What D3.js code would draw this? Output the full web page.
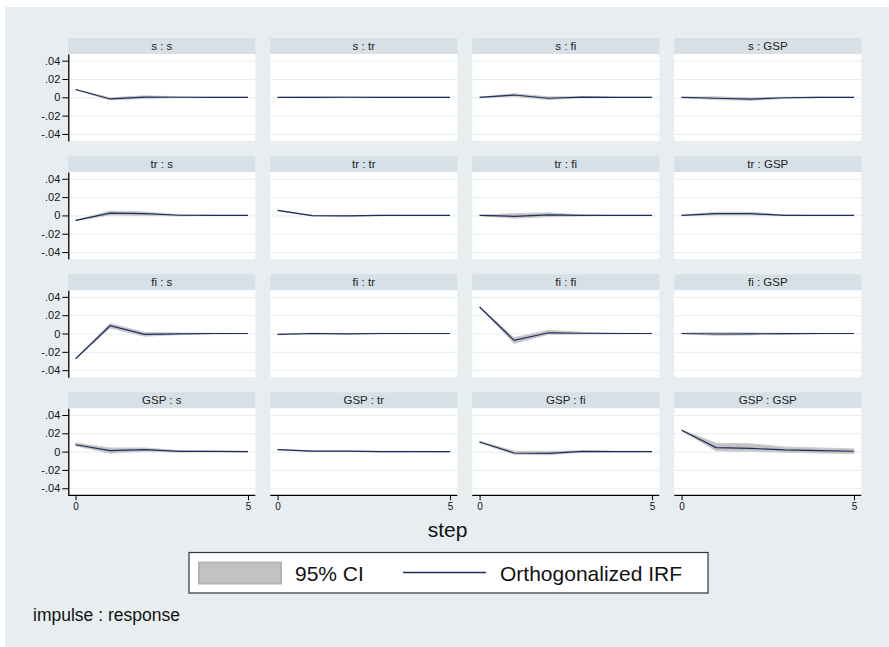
<!DOCTYPE html>
<html>
<head>
<meta charset="utf-8">
<script src="https://cdn.jsdelivr.net/npm/d3@7"></script>
<style>
  body { margin: 0; background: #fff; }
  text { font-family: 'Liberation Sans', Arial, sans-serif; }
</style>
</head>
<body>
<svg id="chart" width="889" height="647"></svg>
<script>
/* global d3 */

var variables = ['s', 'tr', 'fi', 'GSP']
var steps = [0, 1, 2, 3, 4, 5]
var yTicks = [-0.04, -0.02, 0, 0.02, 0.04]
var yTickLabels = ['-.04', '-.02', '0', '.02', '.04']
var xTicks = [0, 5]

// rows in impulse-major order: s:s, s:tr, s:fi, s:GSP, tr:s, ...
var irf = [
  [0.0085, -0.0018, 0.0003, 0.0001, 0, 0],
  [0, 0, 0.0001, 0, 0, 0],
  [0, 0.0025, -0.001, 0.0002, 0, 0],
  [0, -0.001, -0.002, -0.0005, 0, 0],
  [-0.0055, 0.0025, 0.002, 0.0002, 0, 0],
  [0.0055, -0.0003, -0.0005, 0, 0, 0],
  [0, -0.001, 0.0005, 0, 0, 0],
  [0, 0.002, 0.002, 0, 0, 0],
  [-0.0275, 0.0085, -0.001, -0.0003, 0, 0],
  [-0.001, 0, -0.0003, 0, 0, 0],
  [0.029, -0.0075, 0.0008, 0.0003, 0, 0],
  [0, -0.0005, -0.0003, -0.0002, 0, 0],
  [0.0075, 0.001, 0.0022, 0.0003, 0.0002, 0],
  [0.0022, 0.0005, 0.0005, 0, 0, -0.0001],
  [0.0105, -0.0015, -0.002, 0.0003, 0, 0],
  [0.0233, 0.0044, 0.0035, 0.0018, 0.001, 0.0004]
]
var ciLower = [
  [0.0082, -0.003, -0.0012, -0.0003, -0.0001, 0],
  [-0.0002, -0.0004, -0.0003, -0.0002, -0.0001, 0],
  [-0.0003, 0.001, -0.0025, -0.0004, -0.0002, 0],
  [-0.0003, -0.0025, -0.0033, -0.0012, -0.0003, 0],
  [-0.0058, 0.0005, 0, -0.0005, -0.0001, 0],
  [0.0052, -0.0006, -0.0008, -0.0003, -0.0001, 0],
  [-0.0003, -0.003, -0.0015, -0.0005, -0.0001, 0],
  [-0.0003, 0.0005, 0.0005, -0.0003, -0.0001, 0],
  [-0.0278, 0.006, -0.003, -0.0012, -0.0003, 0],
  [-0.0013, -0.0004, -0.0006, -0.0002, -0.0001, 0],
  [0.0287, -0.011, -0.0008, -0.0005, -0.0002, 0],
  [-0.0003, -0.002, -0.0015, -0.0007, -0.0002, 0],
  [0.0062, -0.0018, 0.0005, -0.0005, -0.0003, -0.0003],
  [0.0019, 0.0002, 0.0002, -0.0003, -0.0002, -0.0003],
  [0.0095, -0.003, -0.0035, -0.0005, -0.0003, -0.0002],
  [0.0228, 0.0008, 0.0005, -0.0007, -0.0015, -0.002]
]
var ciUpper = [
  [0.0088, -0.0005, 0.0017, 0.0005, 0.0001, 0],
  [0.0002, 0.0004, 0.0005, 0.0002, 0.0001, 0],
  [0.0003, 0.004, 0.0005, 0.0008, 0.0002, 0],
  [0.0003, 0.0005, -0.0007, 0.0002, 0.0003, 0],
  [-0.0052, 0.0048, 0.0038, 0.0008, 0.0002, 0],
  [0.0058, 0, -0.0002, 0.0003, 0.0001, 0],
  [0.0003, 0.002, 0.0028, 0.0005, 0.0001, 0],
  [0.0003, 0.0035, 0.0035, 0.0004, 0.0001, 0],
  [-0.0272, 0.011, 0.0012, 0.0005, 0.0002, 0],
  [-0.0007, 0.0004, 0, 0.0002, 0.0001, 0],
  [0.0293, -0.0045, 0.0035, 0.0012, 0.0003, 0],
  [0.0003, 0.0012, 0.0008, 0.0003, 0.0001, 0],
  [0.0095, 0.004, 0.004, 0.0012, 0.0006, 0.0003],
  [0.0025, 0.0008, 0.0008, 0.0003, 0.0002, 0.0001],
  [0.0115, 0.0005, 0.0003, 0.001, 0.0003, 0.0002],
  [0.0238, 0.0092, 0.0085, 0.005, 0.004, 0.003]
]

var colX0 = 68.3
var colStep = 202
var panelW = 187
var rowY0 = 38
var rowStep = 118.1
var headH = 16
var plotH = 87

var svg = d3.select('#chart')

svg.append('rect')
  .attr('x', 5).attr('y', 7)
  .attr('width', 884).attr('height', 640)
  .attr('fill', '#e8eef0')

var x = d3.scaleLinear().domain([0, 5]).range([7.3, panelW - 7.3])
var y = d3.scaleLinear().domain([-0.0477, 0.0473]).range([plotH, 0])

var band = d3.area()
  .x((d, i) => x(steps[i]))
  .y0(d => y(d[0]))
  .y1(d => y(d[1]))

var line = d3.line()
  .x((d, i) => x(steps[i]))
  .y(d => y(d))

variables.forEach(function (impulse, r) {
  variables.forEach(function (response, c) {
    var k = r * variables.length + c
    var g = svg.append('g')
      .attr('transform', `translate(${colX0 + c * colStep},${rowY0 + r * rowStep})`)

    // by-label strip
    g.append('rect')
      .attr('width', panelW).attr('height', headH)
      .attr('fill', '#d7e0e6')
    g.append('text')
      .attr('x', panelW / 2).attr('y', headH / 2 + 4)
      .attr('text-anchor', 'middle')
      .attr('font-size', 11.5)
      .attr('fill', '#222')
      .text(impulse + ' : ' + response)

    var p = g.append('g').attr('transform', `translate(0,${headH})`)
    p.append('rect')
      .attr('width', panelW).attr('height', plotH)
      .attr('fill', '#fff')

    // grid
    var grid = p.append('g')
      .call(d3.axisLeft(y).tickValues(yTicks).tickSize(-panelW).tickFormat(''))
    grid.select('.domain').remove()
    grid.selectAll('line').attr('stroke', '#e6edf0').attr('stroke-width', 1)

    var ci = irf[k].map((v, i) => [ciLower[k][i], ciUpper[k][i]])
    p.append('path')
      .attr('d', band(ci))
      .attr('fill', '#c2c2c2')
      .attr('stroke', '#cdcdcd')
      .attr('stroke-width', 1)

    p.append('path')
      .attr('d', line(irf[k]))
      .attr('fill', 'none')
      .attr('stroke', '#1f2c5c')
      .attr('stroke-width', 1.2)

    if (c === 0) {
      var ya = p.append('g')
        .call(d3.axisLeft(y).tickValues(yTicks).tickSize(6).tickSizeOuter(0).tickPadding(2)
          .tickFormat((d, i) => yTickLabels[i]))
      ya.select('.domain').attr('stroke', '#000').attr('stroke-width', 1.3)
      ya.selectAll('line').attr('stroke', '#000')
      ya.selectAll('text').attr('font-size', 11).attr('fill', '#111')
        .attr('font-family', "'Liberation Sans', Arial, sans-serif")
    }

    if (r === variables.length - 1) {
      var xa = p.append('g')
        .attr('transform', `translate(0,${plotH})`)
        .call(d3.axisBottom(x).tickValues(xTicks).tickSize(5).tickSizeOuter(0).tickPadding(3)
          .tickFormat(d3.format('d')))
      xa.select('.domain').remove()
      xa.append('line')
        .attr('x1', 0).attr('x2', panelW)
        .attr('stroke', '#000').attr('stroke-width', 1.3)
      xa.selectAll('.tick line').attr('stroke', '#000')
      xa.selectAll('text').attr('font-size', 10).attr('fill', '#111')
        .attr('font-family', "'Liberation Sans', Arial, sans-serif")
    }
  })
})

// x title
svg.append('text')
  .attr('x', 447.5).attr('y', 537)
  .attr('text-anchor', 'middle')
  .attr('font-size', 21)
  .attr('fill', '#111')
  .text('step')

// legend
var lg = svg.append('g')
lg.append('rect')
  .attr('x', 189).attr('y', 552.5)
  .attr('width', 519).attr('height', 40.5)
  .attr('fill', '#fff')
  .attr('stroke', '#333').attr('stroke-width', 1.2)
lg.append('rect')
  .attr('x', 199).attr('y', 562.5)
  .attr('width', 82).attr('height', 21)
  .attr('fill', '#c2c2c2')
  .attr('stroke', '#b3b3b3').attr('stroke-width', 2)
lg.append('text')
  .attr('x', 295).attr('y', 581)
  .attr('font-size', 21).attr('fill', '#111')
  .text('95% CI')
lg.append('line')
  .attr('x1', 403).attr('x2', 486)
  .attr('y1', 572.5).attr('y2', 572.5)
  .attr('stroke', '#1f2c5c').attr('stroke-width', 1.5)
lg.append('text')
  .attr('x', 500).attr('y', 581)
  .attr('font-size', 21).attr('fill', '#111')
  .text('Orthogonalized IRF')

svg.append('text')
  .attr('x', 33).attr('y', 621)
  .attr('font-size', 17.5).attr('fill', '#111')
  .text('impulse : response')
</script>
</body>
</html>
